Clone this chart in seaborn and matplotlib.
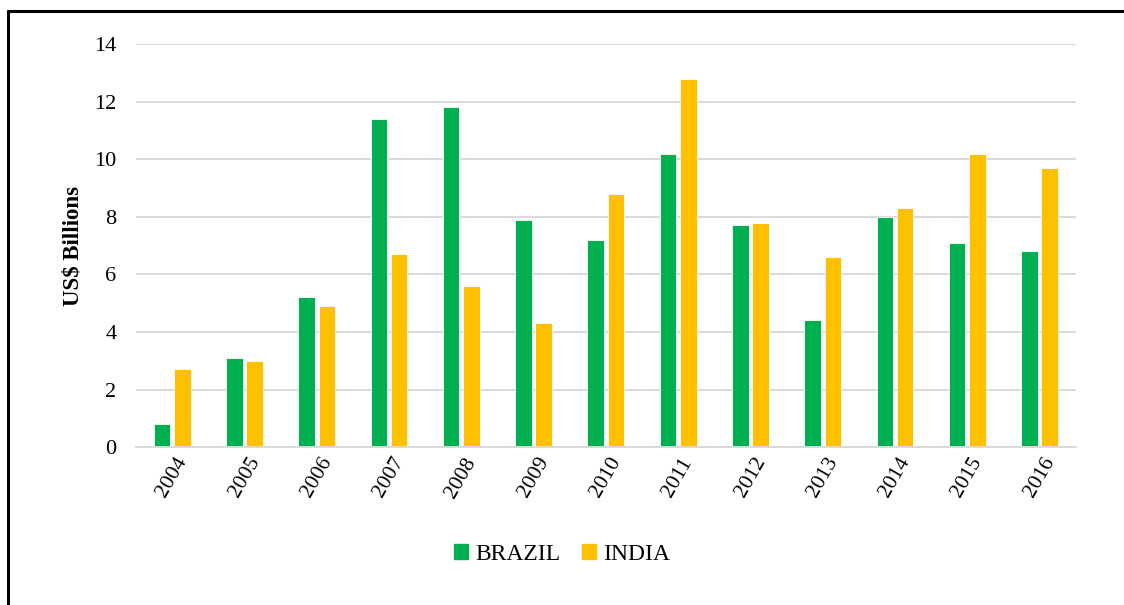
import pandas as pd
import seaborn as sns
import matplotlib.pyplot as plt
from matplotlib.lines import Line2D
from matplotlib.patches import Patch

# Data
years = ['2004', '2005', '2006', '2007', '2008', '2009', '2010',
         '2011', '2012', '2013', '2014', '2015', '2016']
brazil = [0.8, 3.1, 5.2, 11.4, 11.8, 7.9, 7.2, 10.2, 7.7, 4.4, 8.0, 7.1, 6.8]
india = [2.7, 3.0, 4.9, 6.7, 5.6, 4.3, 8.8, 12.8, 7.8, 6.6, 8.3, 10.2, 9.7]
colors = {'BRAZIL': '#00B050', 'INDIA': '#FFC000'}

df = pd.DataFrame({'year': years * 2,
                   'value': brazil + india,
                   'country': ['BRAZIL'] * len(years) + ['INDIA'] * len(years)})

sns.set_style('white')
plt.rcParams['font.family'] = ['Liberation Serif', 'DejaVu Serif']
plt.rcParams['text.color'] = 'black'
plt.rcParams['axes.labelcolor'] = 'black'
plt.rcParams['xtick.labelcolor'] = 'black'
plt.rcParams['ytick.labelcolor'] = 'black'

fig = plt.figure(figsize=(11.24, 6.05), dpi=100)
ax = fig.add_axes([0.121, 0.261, 0.836, 0.666])

sns.barplot(data=df, x='year', y='value', hue='country', palette=colors,
            saturation=1, width=0.56, gap=0.18, edgecolor='white', linewidth=0.6,
            legend=False, ax=ax)

ax.set_ylim(0, 14)
ax.set_yticks(range(0, 15, 2))
ax.set_xlim(-0.5, len(years) - 0.5)
ax.yaxis.grid(True, color='#D9D9D9', linewidth=1.4)
ax.set_axisbelow(True)
for s in ['top', 'right', 'left']:
    ax.spines[s].set_visible(False)
ax.spines['bottom'].set_color('#D9D9D9')
ax.spines['bottom'].set_linewidth(1.4)

ax.tick_params(axis='y', length=0, labelsize=16, pad=14)
ax.tick_params(axis='x', which='major', length=0, labelsize=15.5, pad=5)
ax.set_xticks([i - 0.5 for i in range(len(years) + 1)], minor=True)
ax.tick_params(axis='x', which='minor', length=6, width=1.4, color='#D9D9D9')
plt.setp(ax.get_xticklabels(), rotation=60, ha='center', rotation_mode='default')
ax.set_xlabel('')
ax.set_ylabel('US$ Billions', fontsize=16.5, fontweight='bold', labelpad=8)

handles = [Patch(color=colors[k], label=k) for k in colors]
fig.legend(handles=handles, loc='center', bbox_to_anchor=(0.5, 0.083), ncol=2,
           frameon=False, fontsize=17, handlelength=0.6, handleheight=0.6,
           handletextpad=0.3, columnspacing=0.9)

# outer frame (left and top edges visible in the source)
fig.add_artist(Line2D([0.0071, 0.0071], [0, 0.981], color='black', linewidth=2.2,
                      transform=fig.transFigure))
fig.add_artist(Line2D([0.0071, 1], [0.981, 0.981], color='black', linewidth=2.2,
                      transform=fig.transFigure))

fig.savefig('out.png', dpi=100)
